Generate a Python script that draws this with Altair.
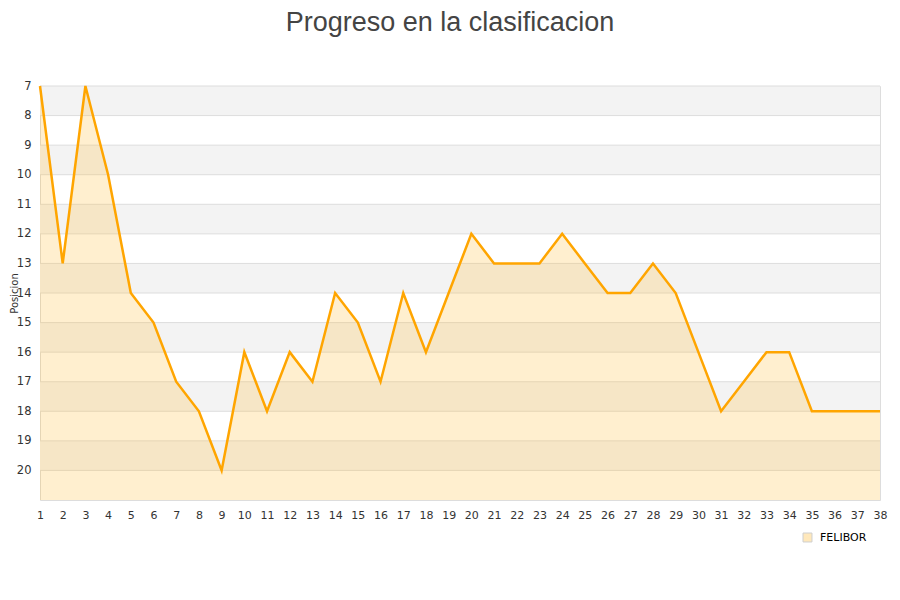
import pandas as pd
import altair as alt

jornadas = list(range(1, 39))
posiciones = [7, 13, 7, 10, 14, 15, 17, 18, 20, 16, 18, 16, 17, 14, 15, 17, 14, 16, 14, 12,
              13, 13, 13, 12, 13, 14, 14, 13, 14, 16, 18, 17, 16, 16, 18, 18, 18, 18]
equipo = "FELIBOR"
bandas_inicio = [7, 9, 11, 13, 15, 17, 19]
marcas_y = list(range(7, 21))

df = pd.DataFrame({"Jornada": jornadas, "Posicion": posiciones, "Equipo": equipo})
df_bandas = pd.DataFrame({"y": bandas_inicio, "y2": [b + 1 for b in bandas_inicio]})
df_grid = pd.DataFrame({"y": marcas_y})

x_scale = alt.Scale(domain=[1, 38], nice=False, zero=False)
y_scale = alt.Scale(domain=[7, 21], reverse=True, nice=False, zero=False)

x_axis = alt.Axis(values=jornadas, title=None, ticks=False, domain=False,
                  grid=False, labelFontSize=11, labelColor="#333",
                  labelPadding=9, labelFlush=False, labelOverlap=False)
y_axis = alt.Axis(values=marcas_y, title="Posicion", ticks=False,
                  domain=False, grid=False,
                  labelFontSize=11.5, labelColor="#333", labelPadding=9,
                  labelOverlap=False,
                  titleFontSize=10, titleFontWeight="normal", titleColor="#333",
                  titleX=-31, titleY=207, titleAngle=270, titleBaseline="top",
                  titleAlign="center")

bandas = alt.Chart(df_bandas).mark_rect(color="#f3f3f3").encode(
    x=alt.value(0),
    x2=alt.value(840),
    y=alt.Y("y:Q", scale=y_scale, axis=y_axis),
    y2="y2:Q",
)

rejilla = alt.Chart(df_grid).mark_rule(color="#dddddd", strokeWidth=1).encode(
    x=alt.value(0),
    x2=alt.value(840),
    y=alt.Y("y:Q", scale=y_scale, axis=y_axis),
)

area = alt.Chart(df).mark_area(opacity=0.25, line=False).encode(
    x=alt.X("Jornada:Q", scale=x_scale, axis=x_axis),
    y=alt.Y("Posicion:Q", scale=y_scale, axis=y_axis),
    y2=alt.datum(21),
    fill=alt.Fill("Equipo:N", scale=alt.Scale(domain=[equipo], range=["#ffbf3f"]),
                  legend=alt.Legend(title=None, orient="none", legendX=762,
                                    legendY=446, symbolType="square",
                                    symbolSize=80, symbolStrokeColor="#777",
                                    symbolStrokeWidth=1, symbolOpacity=0.35,
                                    labelFontSize=11, labelColor="#000",
                                    labelOffset=7)),
)

linea = alt.Chart(df).mark_line(color="#ffa500", strokeWidth=2.5).encode(
    x=alt.X("Jornada:Q", scale=x_scale, axis=x_axis),
    y=alt.Y("Posicion:Q", scale=y_scale, axis=y_axis),
)

chart = (
    alt.layer(bandas, rejilla, area, linea)
    .properties(
        width=840,
        height=414,
        autosize=alt.AutoSizeParams(type="none"),
        padding={"left": 32, "top": 78, "right": 12, "bottom": 90},
        title=alt.Title("Progreso en la clasificacion", fontSize=27,
                        fontWeight="normal", color="#444", font="Liberation Sans",
                        anchor="middle", dx=-10, offset=43),
    )
    .configure_view(stroke="#dddddd")
    .configure(font="DejaVu Sans")
)

chart.save("out.html", embed_options={"renderer": "svg", "actions": False})
